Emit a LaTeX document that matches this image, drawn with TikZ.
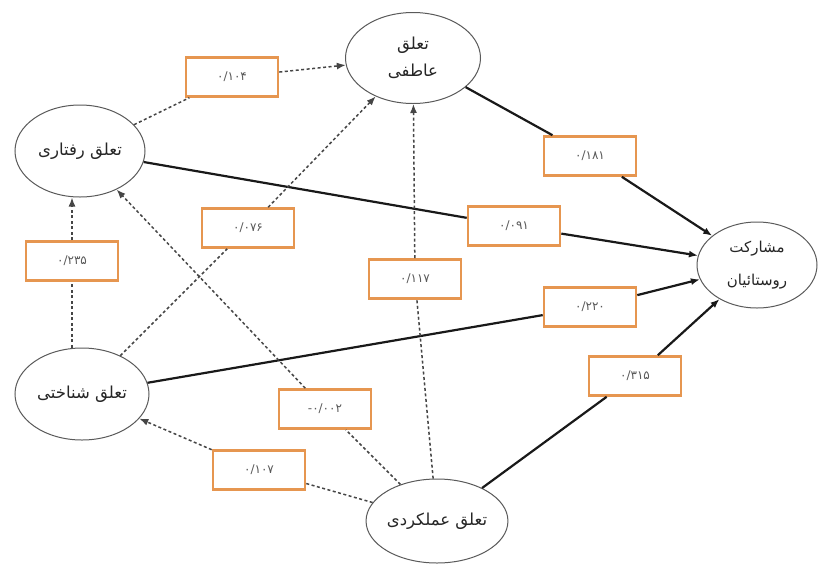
\documentclass[tikz,border=0pt]{standalone}
\usepackage{fontspec}
\newfontfamily\arabicfont[Script=Arabic]{DejaVu Sans}
\newfontfamily\digitfont{DejaVu Sans}
\TeXXeTstate=1
\usetikzlibrary{shapes.geometric,arrows.meta}
\definecolor{boxorange}{RGB}{230,150,80}
\definecolor{ellgray}{RGB}{90,90,90}
\definecolor{dashgray}{RGB}{70,70,70}
\tikzset{
  factor/.style={ellipse, draw=ellgray, line width=1pt, fill=white, inner sep=0pt, align=center,
    font=\arabicfont\fontsize{16.5}{27}\selectfont, text=black!85},
  coef/.style={rectangle, draw=boxorange, line width=2.6pt, fill=white, minimum width=92pt,
    minimum height=39pt, inner sep=0pt, font=\digitfont\fontsize{12}{13}\selectfont, text=black!65},
  dlink/.style={dashgray, line width=1.5pt, dash pattern=on 3pt off 2.5pt},
  slink/.style={black!90, line width=2.2pt},
  arrowend/.style={-{Latex[length=9pt,width=7pt]}},
}
\begin{document}
\begin{tikzpicture}[x=1pt,y=-1pt]
\fill[white] (0,0) rectangle (820,566);
\useasboundingbox (0,0) rectangle (820,566);
% factors
\node[factor, minimum width=130pt, minimum height=92pt] (R) at (80,151) {\beginR تعلق رفتاری\endR};
\node[factor, minimum width=135pt, minimum height=91pt] (A) at (413,58) {\beginR تعلق\endR\\\beginR عاطفی\endR};
\node[factor, minimum width=120pt, minimum height=86pt, font=\arabicfont\fontsize{15}{33}\selectfont] (M) at (757,265) {\beginR مشارکت\endR\\\beginR روستائیان\endR};
\node[factor, minimum width=134pt, minimum height=92pt] (S) at (82,394) {\beginR تعلق شناختی\endR};
\node[factor, minimum width=140pt, minimum height=84pt] (F) at (437,521) {\beginR تعلق عملکردی\endR};
% coefficients
\node[coef] (b104) at (232,77) {۰/۱۰۴};
\node[coef] (b181) at (590,156) {۰/۱۸۱};
\node[coef] (b091) at (514,226) {۰/۰۹۱};
\node[coef] (b220) at (590,307) {۰/۲۲۰};
\node[coef] (b315) at (635,376) {۰/۳۱۵};
\node[coef] (b235) at (72,261) {۰/۲۳۵};
\node[coef] (b076) at (248,228) {۰/۰۷۶};
\node[coef] (b117) at (415,279) {۰/۱۱۷};
\node[coef] (b002) at (325,409) {-۰/۰۰۲};
\node[coef] (b107) at (259,470) {۰/۱۰۷};
% connectors
\draw[dlink] (R) -- (b104);
\draw[dlink, arrowend] (b104) -- (A);
\draw[slink] (R) -- (b091);
\draw[slink, arrowend] (b091) -- (M);
\draw[slink] (A) -- (b181);
\draw[slink, arrowend] (b181) -- (M);
\draw[dlink] (b235 |- S.north) -- (b235);
\draw[dlink, arrowend] (b235) -- (b235 |- R.south);
\draw[dlink] (S) -- (b076);
\draw[dlink, arrowend] (b076) -- (A);
\draw[slink] (S) -- (b220);
\draw[slink, arrowend] (b220) -- (M);
\draw[dlink] (F) -- (b107);
\draw[dlink, arrowend] (b107) -- (S);
\draw[dlink] (F) -- (b002);
\draw[dlink, arrowend] (b002) -- (R);
\draw[dlink] (F) -- (b117);
\draw[dlink, arrowend] (b117) -- (A);
\draw[slink] (F) -- (b315);
\draw[slink, arrowend] (b315) -- (M);
\end{tikzpicture}
\end{document}
